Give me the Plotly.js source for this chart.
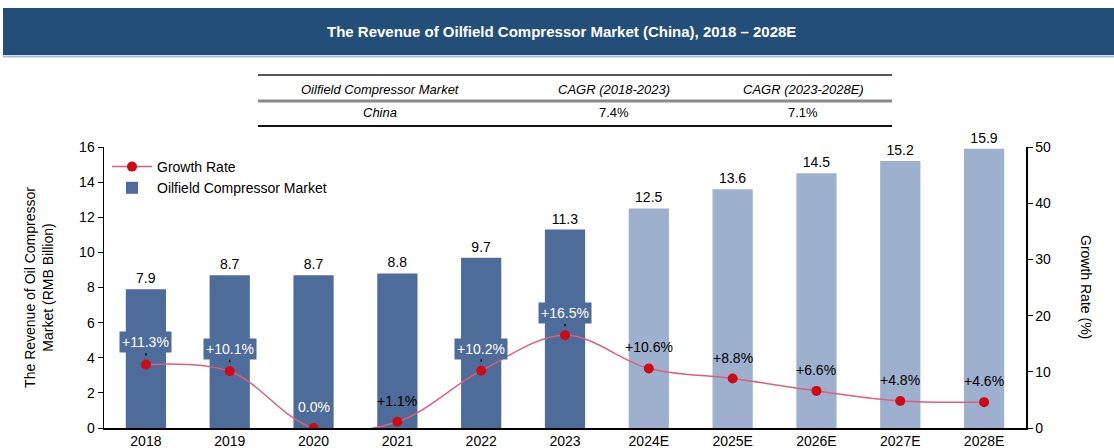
<!DOCTYPE html>
<html>
<head>
<meta charset="utf-8">
<script src="https://cdn.plot.ly/plotly-3.0.1.min.js"></script>
<style>
  html, body { margin: 0; padding: 0; background: #ffffff; }
  #chart { width: 1114px; height: 448px; }
</style>
</head>
<body>
<div id="chart"></div>
<script>
// ---- Data ----
const years = ["2018", "2019", "2020", "2021", "2022", "2023", "2024E", "2025E", "2026E", "2027E", "2028E"];
const revenue = [7.9, 8.7, 8.7, 8.8, 9.7, 11.3, 12.5, 13.6, 14.5, 15.2, 15.9];
const growthRate = [11.3, 10.1, 0.0, 1.1, 10.2, 16.5, 10.6, 8.8, 6.6, 4.8, 4.6];
const growthLabels = ["+11.3%", "+10.1%", "0.0%", "+1.1%", "+10.2%", "+16.5%", "+10.6%", "+8.8%", "+6.6%", "+4.8%", "+4.6%"];
const tableHeader = ["Oilfield Compressor Market", "CAGR (2018-2023)", "CAGR (2023-2028E)"];
const tableRow = ["China", "7.4%", "7.1%"];
const chartTitle = "The Revenue of Oilfield Compressor Market (China), 2018 – 2028E";

// ---- Styling ----
const W = 1114, H = 448;
const M = { l: 104, r: 88, t: 147, b: 20 };
const PW = W - M.l - M.r, PH = H - M.t - M.b;
const px = x => (x - M.l) / PW;          // pixel x -> paper x
const py = y => (H - M.b - y) / PH;      // pixel y -> paper y

const histColor = "#4D6C99";
const foreColor = "#9DB0CE";
const lineColor = "#D9607E";
const markerColor = "#D00A14";
const FONT = "Liberation Sans, Arial, sans-serif";

const barColors = years.map(y => y.endsWith("E") ? foreColor : histColor);

const bars = {
  type: "bar",
  x: years,
  y: revenue,
  name: "Oilfield Compressor Market",
  marker: { color: barColors, line: { width: 0 } },
  width: 0.48,
  text: revenue.map(v => v.toFixed(1)),
  textposition: "outside",
  textfont: { family: FONT, size: 14, color: "#000" },
  cliponaxis: false,
  legendrank: 2,
  hoverinfo: "x+y"
};

const line = {
  type: "scatter",
  mode: "lines+markers",
  x: years,
  y: growthRate,
  yaxis: "y2",
  name: "Growth Rate",
  line: { color: lineColor, width: 1.5, shape: "spline", smoothing: 1 },
  marker: { color: markerColor, size: 10 },
  legendrank: 1
};

const annotations = [];

// growth-rate labels (x given as category index)
growthRate.forEach((g, i) => {
  const boxed = [0, 1, 4, 5].includes(i);
  const whiteText = boxed || i === 2;
  annotations.push({
    x: i, y: g, xref: "x", yref: "y2",
    text: growthLabels[i],
    showarrow: boxed,
    arrowhead: 0, arrowwidth: 1.2, arrowcolor: "#000",
    standoff: 9,
    ax: 0, ay: -22,
    yshift: boxed ? 0 : 21,
    bgcolor: boxed ? histColor : "rgba(0,0,0,0)",
    borderpad: 2,
    font: { family: FONT, size: 14, color: whiteText ? "#ffffff" : "#000000" }
  });
});

// title
annotations.push({
  xref: "paper", yref: "paper", x: px(W / 2 + 4), y: py(31),
  text: "<b>" + chartTitle + "</b>", showarrow: false,
  font: { family: FONT, size: 15, color: "#ffffff" },
  xanchor: "center", yanchor: "middle"
});

// table text
const colCenters = [380, 614, 803];
tableHeader.forEach((t, i) => {
  annotations.push({
    xref: "paper", yref: "paper", x: px(colCenters[i]), y: py(89),
    text: "<i>" + t + "</i>", showarrow: false,
    font: { family: FONT, size: 13, color: "#000" },
    xanchor: "center", yanchor: "middle"
  });
});
tableRow.forEach((t, i) => {
  annotations.push({
    xref: "paper", yref: "paper", x: px(colCenters[i]), y: py(113),
    text: i === 0 ? "<i>" + t + "</i>" : t, showarrow: false,
    font: { family: FONT, size: 13, color: "#000" },
    xanchor: "center", yanchor: "middle"
  });
});

// right axis title (reads top to bottom)
annotations.push({
  xref: "paper", yref: "paper", x: px(1086), y: py(287),
  text: "Growth Rate (%)", showarrow: false, textangle: 90,
  font: { family: FONT, size: 14, color: "#000" },
  xanchor: "center", yanchor: "middle"
});

const shapes = [
  // title bar
  { type: "rect", xref: "paper", yref: "paper", x0: px(3), x1: px(1114), y0: py(55), y1: py(8),
    fillcolor: "#224E78", line: { width: 0 }, layer: "below" },
  { type: "line", xref: "paper", yref: "paper", x0: px(3), x1: px(1114), y0: py(56.5), y1: py(56.5),
    line: { color: "#A9BCD4", width: 2 } },
  // table lines
  { type: "line", xref: "paper", yref: "paper", x0: px(258), x1: px(892), y0: py(75), y1: py(75),
    line: { color: "#555", width: 2 } },
  { type: "line", xref: "paper", yref: "paper", x0: px(258), x1: px(892), y0: py(101), y1: py(101),
    line: { color: "#8a8a8a", width: 3 } },
  { type: "line", xref: "paper", yref: "paper", x0: px(258), x1: px(892), y0: py(126), y1: py(126),
    line: { color: "#111", width: 2 } }
];

const layout = {
  width: W, height: H,
  margin: M,
  paper_bgcolor: "#ffffff",
  plot_bgcolor: "#ffffff",
  font: { family: FONT, size: 14, color: "#000" },
  showlegend: true,
  legend: {
    x: px(107), y: py(151), xanchor: "left", yanchor: "top",
    bgcolor: "rgba(0,0,0,0)",
    font: { family: FONT, size: 14, color: "#000" },
    itemwidth: 40, tracegroupgap: 2
  },
  bargap: 0.52,
  xaxis: {
    type: "category",
    range: [-0.5, 10.5],
    showline: true, linecolor: "#000", linewidth: 1.5,
    ticks: "", showgrid: false,
    tickfont: { family: FONT, size: 14, color: "#000" },
    ticklabelstandoff: 0
  },
  yaxis: {
    range: [0, 16], dtick: 2,
    showline: true, linecolor: "#000", linewidth: 1.5,
    ticks: "outside", ticklen: 5, tickcolor: "#000",
    showgrid: false, zeroline: false,
    tickfont: { family: FONT, size: 14, color: "#000" },
    title: { text: "The Revenue of Oil Compressor<br>Market (RMB Billion)",
             font: { family: FONT, size: 14, color: "#000" }, standoff: 22 }
  },
  yaxis2: {
    overlaying: "y", side: "right",
    range: [0, 50], dtick: 10,
    showline: true, linecolor: "#000", linewidth: 1.5,
    ticks: "outside", ticklen: 5, tickcolor: "#000",
    showgrid: false, zeroline: false,
    tickfont: { family: FONT, size: 14, color: "#000" }
  },
  annotations: annotations,
  shapes: shapes
};

Plotly.newPlot("chart", [bars, line], layout, { displayModeBar: false, staticPlot: true });
</script>
</body>
</html>
